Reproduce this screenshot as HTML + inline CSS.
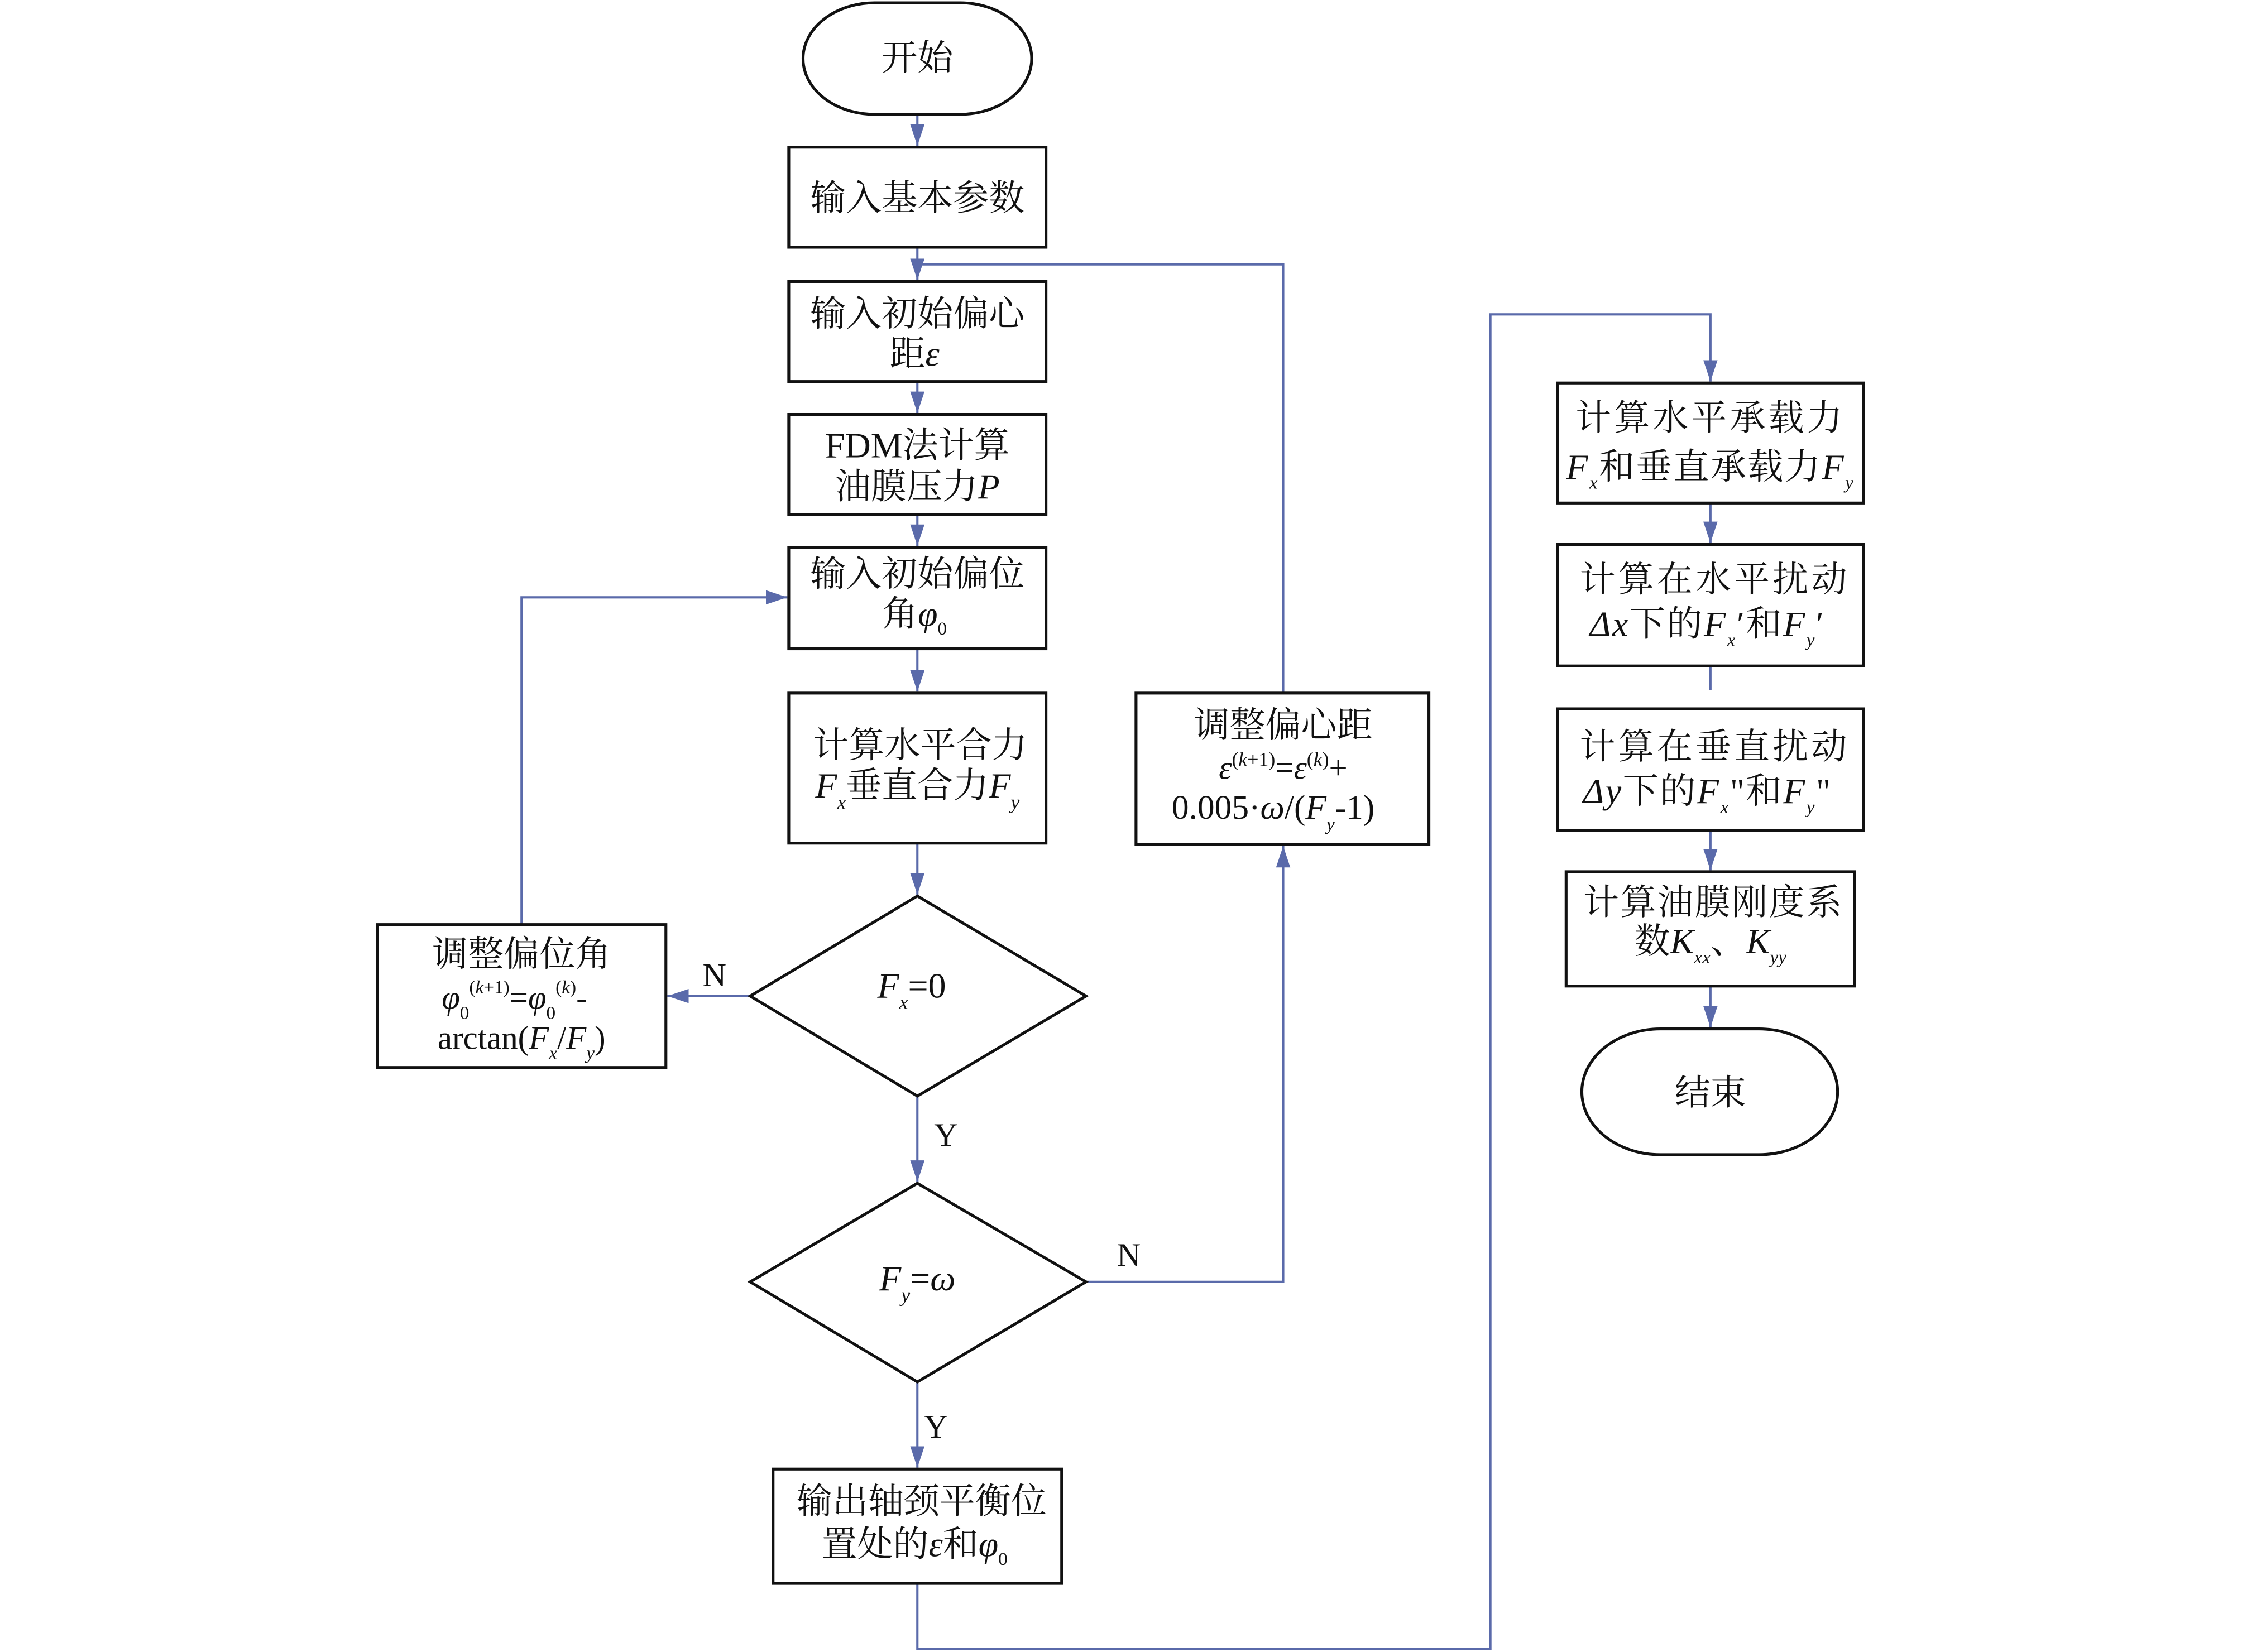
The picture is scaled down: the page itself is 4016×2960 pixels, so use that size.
<!DOCTYPE html>
<html><head><meta charset="utf-8"><style>
html,body{margin:0;padding:0;background:#fff;}
svg{display:block;}
text{font-family:"Liberation Serif","Noto Serif CJK SC",serif;fill:#111;}
</style></head><body>
<svg width="4016" height="2960" viewBox="0 0 1569 1156" preserveAspectRatio="none" xmlns="http://www.w3.org/2000/svg">
<defs>
<marker id="a" markerUnits="userSpaceOnUse" markerWidth="16" markerHeight="12" refX="15" refY="5" orient="auto">
<path d="M0,0 L15,5 L0,10 z" fill="#5a6aaa"/></marker>
</defs>
<g fill="none" stroke="#5a6aaa" stroke-width="1.6">
<line x1="642" y1="80" x2="642" y2="102" marker-end="url(#a)"/>
<line x1="642" y1="173" x2="642" y2="196" marker-end="url(#a)"/>
<polyline points="898,485 898,185 642,185"/>
<line x1="642" y1="267" x2="642" y2="289" marker-end="url(#a)"/>
<line x1="642" y1="360" x2="642" y2="382" marker-end="url(#a)"/>
<line x1="642" y1="454" x2="642" y2="484" marker-end="url(#a)"/>
<line x1="642" y1="590" x2="642" y2="626" marker-end="url(#a)"/>
<line x1="525" y1="697" x2="467" y2="697" marker-end="url(#a)"/>
<polyline points="365,647 365,418 551,418" marker-end="url(#a)"/>
<line x1="642" y1="767" x2="642" y2="827" marker-end="url(#a)"/>
<polyline points="760,897 898,897 898,592" marker-end="url(#a)"/>
<line x1="642" y1="967" x2="642" y2="1027" marker-end="url(#a)"/>
<polyline points="642,1108 642,1154 1043,1154 1043,220 1197,220 1197,267" marker-end="url(#a)"/>
<line x1="1197" y1="352" x2="1197" y2="380" marker-end="url(#a)"/>
<line x1="1197" y1="466" x2="1197" y2="483"/>
<line x1="1197" y1="581" x2="1197" y2="609" marker-end="url(#a)"/>
<line x1="1197" y1="690" x2="1197" y2="719" marker-end="url(#a)"/>
</g>
<g fill="#fff" stroke="#111" stroke-width="2">
<rect x="562" y="2" width="160" height="78" rx="50" ry="39"/>
<rect x="552" y="103" width="180" height="70"/>
<rect x="552" y="197" width="180" height="70"/>
<rect x="552" y="290" width="180" height="70"/>
<rect x="552" y="383" width="180" height="71"/>
<rect x="552" y="485" width="180" height="105"/>
<polygon points="642,627 760,697 642,767 525,697"/>
<rect x="264" y="647" width="202" height="100"/>
<polygon points="642,828 760,897 642,967 525,897"/>
<rect x="795" y="485" width="205" height="106"/>
<rect x="541" y="1028" width="202" height="80"/>
<rect x="1090" y="268" width="214" height="84"/>
<rect x="1090" y="381" width="214" height="85"/>
<rect x="1090" y="496" width="214" height="85"/>
<rect x="1096" y="610" width="202" height="80"/>
<rect x="1107" y="720" width="179" height="88" rx="55" ry="44"/>
</g>
<g font-size="25" text-anchor="middle">
<text x="642" y="49">开始</text>
<text x="642" y="147">输入基本参数</text>
<text x="642" y="228">输入初始偏心</text>
<text x="640" y="256">距<tspan font-style="italic">ε</tspan></text>
<text x="642" y="320">FDM法计算</text>
<text x="642" y="349">油膜压力<tspan font-style="italic">P</tspan></text>
<text x="642" y="410">输入初始偏位</text>
<text x="640" y="438">角<tspan font-style="italic">φ</tspan><tspan font-size="13" dy="6">0</tspan></text>
<text x="644" y="530">计算水平合力</text>
<text x="642" y="558"><tspan font-style="italic">F</tspan><tspan font-size="14" font-style="italic" dy="8">x</tspan><tspan dy="-8">垂直合力</tspan><tspan font-style="italic">F</tspan><tspan font-size="14" font-style="italic" dy="8">y</tspan></text>
<text x="638" y="698"><tspan font-style="italic">F</tspan><tspan font-size="14" font-style="italic" dy="8">x</tspan><tspan dy="-8">=0</tspan></text>
<text x="500" y="690" font-size="23">N</text>
<text x="662" y="802" font-size="23">Y</text>
<text x="365" y="676">调整偏位角</text>
<text x="360" y="706" font-size="23"><tspan font-style="italic">φ</tspan><tspan font-size="13" dy="7">0</tspan><tspan font-size="13" dy="-18">(</tspan><tspan font-size="13" font-style="italic">k</tspan><tspan font-size="13">+1)</tspan><tspan dy="11">=</tspan><tspan font-style="italic">φ</tspan><tspan font-size="13" dy="7">0</tspan><tspan font-size="13" dy="-18">(</tspan><tspan font-size="13" font-style="italic">k</tspan><tspan font-size="13">)</tspan><tspan dy="11">-</tspan></text>
<text x="365" y="734" font-size="23">arctan(<tspan font-style="italic">F</tspan><tspan font-size="13" font-style="italic" dy="7">x</tspan><tspan dy="-7">/</tspan><tspan font-style="italic">F</tspan><tspan font-size="13" font-style="italic" dy="7">y</tspan><tspan dy="-7">)</tspan></text>
<text x="642" y="903"><tspan font-style="italic">F</tspan><tspan font-size="14" font-style="italic" dy="8">y</tspan><tspan dy="-8">=</tspan><tspan font-style="italic">ω</tspan></text>
<text x="790" y="886" font-size="23">N</text>
<text x="655" y="1006" font-size="23">Y</text>
<text x="898" y="516">调整偏心距</text>
<text x="898" y="545" font-size="23"><tspan font-style="italic">ε</tspan><tspan font-size="14" dy="-9">(</tspan><tspan font-size="14" font-style="italic">k</tspan><tspan font-size="14">+1)</tspan><tspan dy="9">=</tspan><tspan font-style="italic">ε</tspan><tspan font-size="14" dy="-9">(</tspan><tspan font-size="14" font-style="italic">k</tspan><tspan font-size="14">)</tspan><tspan dy="9">+</tspan></text>
<text x="891" y="573" font-size="24">0.005·<tspan font-style="italic">ω</tspan>/(<tspan font-style="italic">F</tspan><tspan font-size="13" font-style="italic" dy="8">y</tspan><tspan dy="-8">-1)</tspan></text>
<text x="645" y="1059">输出轴颈平衡位</text>
<text x="640" y="1089">置处的<tspan font-style="italic">ε</tspan>和<tspan font-style="italic">φ</tspan><tspan font-size="13" dy="6">0</tspan></text>
<text x="1197" y="301" letter-spacing="2">计算水平承载力</text>
<text x="1197" y="335" letter-spacing="1"><tspan font-style="italic">F</tspan><tspan font-size="13" font-style="italic" dy="7">x</tspan><tspan dy="-7">和垂直承载力</tspan><tspan font-style="italic">F</tspan><tspan font-size="13" font-style="italic" dy="7">y</tspan></text>
<text x="1200" y="414" letter-spacing="2">计算在水平扰动</text>
<text x="1195" y="445" letter-spacing="1"><tspan font-style="italic">Δx</tspan>下的<tspan font-style="italic">F</tspan><tspan font-size="13" font-style="italic" dy="7">x</tspan><tspan dy="-7">′和</tspan><tspan font-style="italic">F</tspan><tspan font-size="13" font-style="italic" dy="7">y</tspan><tspan dy="-7">′</tspan></text>
<text x="1200" y="531" letter-spacing="2">计算在垂直扰动</text>
<text x="1195" y="562" letter-spacing="1"><tspan font-style="italic">Δy</tspan>下的<tspan font-style="italic">F</tspan><tspan font-size="13" font-style="italic" dy="7">x</tspan><tspan dy="-7">"和</tspan><tspan font-style="italic">F</tspan><tspan font-size="13" font-style="italic" dy="7">y</tspan><tspan dy="-7">"</tspan></text>
<text x="1199" y="640" letter-spacing="1">计算油膜刚度系</text>
<text x="1197" y="667">数<tspan font-style="italic">K</tspan><tspan font-size="13" font-style="italic" dy="7">xx</tspan><tspan dy="-7">、</tspan><tspan font-style="italic">K</tspan><tspan font-size="13" font-style="italic" dy="7">yy</tspan></text>
<text x="1197" y="773">结束</text>
</g>
</svg>
</body></html>
